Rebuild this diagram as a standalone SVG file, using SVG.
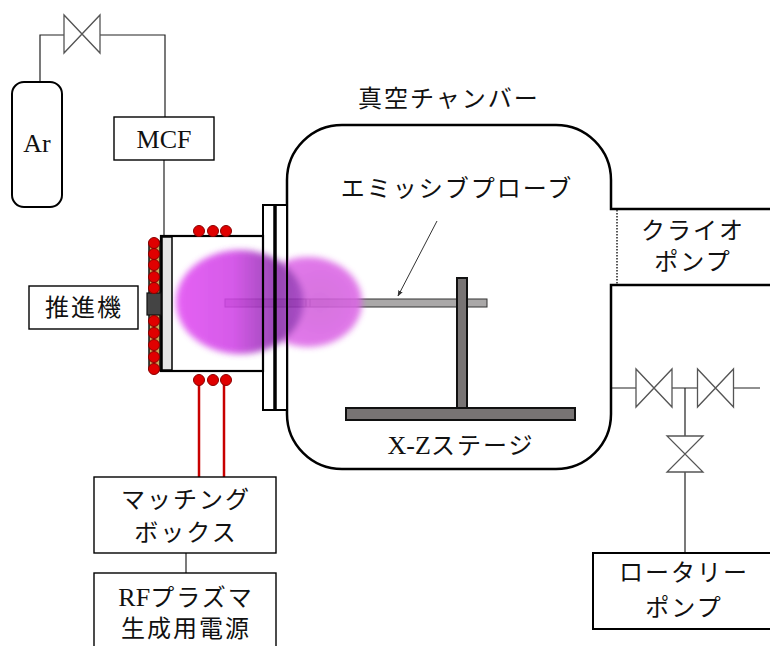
<svg xmlns="http://www.w3.org/2000/svg" width="770" height="646" viewBox="0 0 770 646">
  <style>
    .box { fill: #fff; stroke: #000; stroke-width: 1.4; }
    .pipe { fill: none; stroke: #222; stroke-width: 1.2; }
    .valve { fill: #fff; stroke: #555; stroke-width: 1.3; stroke-linejoin: miter; }
    .jp { font-family: "Noto Sans CJK JP", "Noto Sans", sans-serif; font-size: 24px; letter-spacing: 2px; fill: #111; }
    .lat { font-family: "Liberation Serif", "Times New Roman", serif; font-size: 26px; fill: #111; }
    .coil { fill: #e00000; stroke: #8a0000; stroke-width: 1; }
    .wire { stroke: #c80000; stroke-width: 2.5; }
    .metal { fill: #787474; stroke: #111; stroke-width: 2; }
  </style>
  <defs>
    <filter id="soft" x="-20%" y="-20%" width="140%" height="140%">
      <feGaussianBlur stdDeviation="3"/>
    </filter>
    <linearGradient id="plasmaCore" x1="175" y1="0" x2="305" y2="0" gradientUnits="userSpaceOnUse">
      <stop offset="0" stop-color="#e24cf2"/>
      <stop offset="0.45" stop-color="#d044e6"/>
      <stop offset="0.8" stop-color="#8a2eaa"/>
      <stop offset="1" stop-color="#a236c2"/>
    </linearGradient>
    <radialGradient id="plasmaPlume" cx="320" cy="302" r="60" gradientUnits="userSpaceOnUse">
      <stop offset="0" stop-color="#d060da"/>
      <stop offset="0.7" stop-color="#dc66e6"/>
      <stop offset="1" stop-color="#e070ea"/>
    </radialGradient>
    <marker id="arrow" viewBox="0 0 10 10" refX="9" refY="5" markerWidth="6" markerHeight="6" orient="auto">
      <path d="M0,1 L10,5 L0,9 Z" fill="#333"/>
    </marker>
    <g id="valveH">
      <path class="valve" d="M-18,-19 L-18,19 L18,-19 L18,19 Z"/>
    </g>
    <g id="valveV">
      <path class="valve" d="M-18,-18 L18,-18 L-18,18 L18,18 Z"/>
    </g>
  </defs>

  <!-- connectors: gas feed, pumping lines, RF wiring -->
  <g id="connectors">
    <path class="pipe" d="M40,82 L40,35 L64,35"/>
    <path class="pipe" d="M100,35 L165,35 L165,117"/>
    <path class="pipe" d="M164,160 L164,236"/>
    <path class="pipe" d="M186,553 L186,573" stroke-width="1.6"/>
    <path class="pipe" d="M611,388 L636,388 M672,388 L697,388 M734,388 L760,388"/>
    <path class="pipe" d="M685,388 L685,436 M685,472 L685,553"/>
    <line class="wire" x1="199" y1="384" x2="199" y2="477"/>
    <line class="wire" x1="224" y1="384" x2="224" y2="477"/>
    <line x1="437" y1="221" x2="398" y2="296" stroke="#333" stroke-width="1" marker-end="url(#arrow)"/>
  </g>

  <!-- valves -->
  <g id="valve-gas"><use href="#valveH" x="82" y="34"/></g>
  <g id="valve-1"><use href="#valveH" x="654" y="388"/></g>
  <g id="valve-2"><use href="#valveH" x="715.5" y="388"/></g>
  <g id="valve-3"><use href="#valveV" x="685" y="454"/></g>

  <!-- argon cylinder -->
  <g id="ar">
    <rect x="12" y="82" width="50" height="125" rx="12" fill="#fff" stroke="#000" stroke-width="2"/>
    <text class="lat" x="37" y="152" text-anchor="middle">Ar</text>
  </g>

  <!-- mass flow controller -->
  <g id="mcf">
    <rect class="box" x="114" y="117" width="100" height="43"/>
    <text class="lat" x="164" y="148" text-anchor="middle">MCF</text>
  </g>

  <!-- vacuum chamber wall with pump ports -->
  <g id="chamber">
    <path d="M287,180 A55,55 0 0 1 342,125 L556,125 A55,55 0 0 1 611,180 L611,209 L770,209 M770,285 L611,285 L611,414 A55,55 0 0 1 556,469 L342,469 A55,55 0 0 1 287,414 L287,180" fill="none" stroke="#000" stroke-width="2.5"/>
    <line x1="617" y1="210" x2="617" y2="284" stroke="#222" stroke-width="1.5" stroke-dasharray="1.5 1.5"/>
    <text class="jp" x="449" y="107" text-anchor="middle">真空チャンバー</text>
  </g>

  <!-- flange and thruster body (background) -->
  <g id="thruster-back">
    <rect x="263" y="205" width="24" height="205" fill="#fff"/>
    <rect x="161" y="236" width="102" height="135" fill="#fff"/>
  </g>

  <!-- emissive probe rod -->
  <g id="probe">
    <rect x="225" y="299" width="262" height="8" fill="#aaa8a8" stroke="#333" stroke-width="1"/>
    <line x1="306" y1="299" x2="306" y2="307" stroke="#333" stroke-width="1"/>
    <line x1="310" y1="299" x2="310" y2="307" stroke="#333" stroke-width="1"/>
    <text class="jp" x="457" y="197" text-anchor="middle">エミッシブプローブ</text>
  </g>

  <!-- plasma plume -->
  <g id="plasma" filter="url(#soft)" opacity="0.88">
    <ellipse cx="308" cy="302" rx="54" ry="45" fill="url(#plasmaPlume)"/>
    <ellipse cx="240" cy="302" rx="64" ry="52" fill="url(#plasmaCore)"/>
  </g>

  <!-- thruster outlines -->
  <g id="thruster">
    <rect x="161" y="236" width="102" height="135" fill="none" stroke="#000" stroke-width="2.2"/>
    <rect x="162" y="237" width="10" height="133" fill="#e6e6e6" stroke="#000" stroke-width="1.5"/>
    <rect x="263" y="205" width="24" height="205" fill="none" stroke="#000" stroke-width="2"/>
    <line x1="275" y1="205" x2="275" y2="410" stroke="#000" stroke-width="3.5"/>
    <rect x="149" y="239" width="11" height="134" rx="5" fill="#c6a65a" stroke="#111" stroke-width="1.5"/>
    <rect x="147" y="293" width="14" height="22" fill="#444" stroke="#111" stroke-width="1.2"/>
    <g id="coils">
      <circle class="coil" cx="154" cy="243" r="5.5"/>
      <circle class="coil" cx="154" cy="254" r="5.5"/>
      <circle class="coil" cx="154" cy="265" r="5.5"/>
      <circle class="coil" cx="154" cy="277" r="5.5"/>
      <circle class="coil" cx="154" cy="288" r="5.5"/>
      <circle class="coil" cx="154" cy="321" r="5.5"/>
      <circle class="coil" cx="154" cy="333" r="5.5"/>
      <circle class="coil" cx="154" cy="345" r="5.5"/>
      <circle class="coil" cx="154" cy="357" r="5.5"/>
      <circle class="coil" cx="154" cy="369" r="5.5"/>
      <circle class="coil" cx="199" cy="231" r="5.5"/>
      <circle class="coil" cx="213" cy="231" r="5.5"/>
      <circle class="coil" cx="226" cy="231" r="5.5"/>
      <circle class="coil" cx="199" cy="380" r="5.5"/>
      <circle class="coil" cx="213" cy="380" r="5.5"/>
      <circle class="coil" cx="226" cy="380" r="5.5"/>
    </g>
  </g>

  <!-- thruster label -->
  <g id="thruster-label">
    <rect class="box" x="29" y="286" width="109" height="43"/>
    <text class="jp" x="84" y="316" text-anchor="middle">推進機</text>
  </g>

  <!-- X-Z stage -->
  <g id="stage">
    <rect class="metal" x="457" y="278" width="10" height="131"/>
    <rect class="metal" x="346" y="408" width="229" height="12"/>
    <text x="461" y="454" text-anchor="middle"><tspan class="lat">X-Z</tspan><tspan class="jp">ステージ</tspan></text>
  </g>

  <!-- cryo pump -->
  <g id="cryo">
    <text class="jp" x="693" y="239" text-anchor="middle">クライオ</text>
    <text class="jp" x="693" y="270" text-anchor="middle">ポンプ</text>
  </g>

  <!-- matching box -->
  <g id="matching">
    <rect class="box" x="94" y="477" width="182" height="76"/>
    <text class="jp" x="186" y="508" text-anchor="middle">マッチング</text>
    <text class="jp" x="186" y="541" text-anchor="middle">ボックス</text>
  </g>

  <!-- RF power supply -->
  <g id="rf">
    <rect class="box" x="94" y="573" width="182" height="90"/>
    <text x="186" y="606" text-anchor="middle"><tspan class="lat">RF</tspan><tspan class="jp">プラズマ</tspan></text>
    <text class="jp" x="186" y="637" text-anchor="middle">生成用電源</text>
  </g>

  <!-- rotary pump -->
  <g id="rotary">
    <rect x="593" y="553" width="190" height="76" fill="#fff" stroke="#000" stroke-width="2"/>
    <text class="jp" x="684" y="581" text-anchor="middle">ロータリー</text>
    <text class="jp" x="684" y="616" text-anchor="middle">ポンプ</text>
  </g>
</svg>
